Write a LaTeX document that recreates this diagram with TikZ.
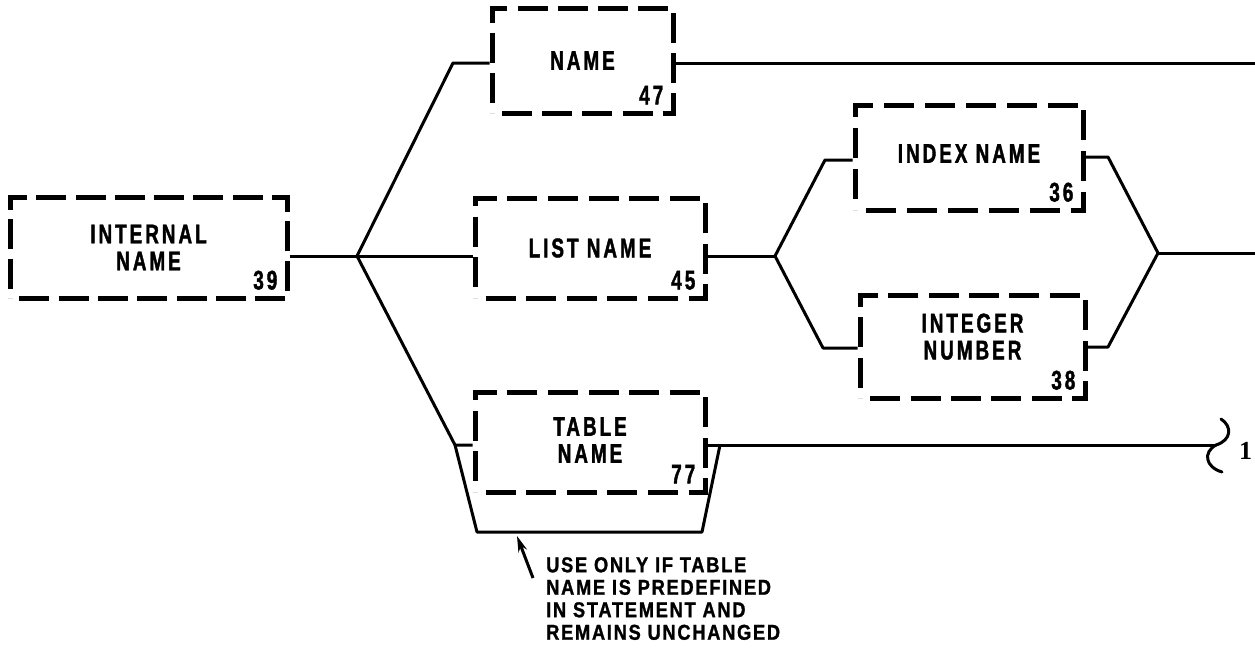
\documentclass[tikz,border=0pt]{standalone}
\usepackage{fontspec}
\usetikzlibrary{arrows.meta,decorations}
\newfontfamily\lblfont[FakeStretch=0.7,LetterSpace=11,FakeBold=1.5]{Liberation Sans}
\newfontfamily\notefont[FakeStretch=0.85,LetterSpace=8,FakeBold=1.2]{Liberation Sans}
\newfontfamily\markfont{Liberation Serif}
\begin{document}
\begin{tikzpicture}[x=1pt,y=-1pt,
  box/.style={draw, line width=5pt, dash pattern=on 30pt off 9pt, dash expand off,
    rectangle, inner sep=0pt, align=center,
    font=\lblfont\bfseries\fontsize{27}{27}\selectfont},
  num/.style={anchor=base east, inner sep=0pt, xshift=-12pt, yshift=11pt,
    font=\lblfont\bfseries\fontsize{27}{27}\selectfont},
  conn/.style={line width=3pt, line join=round}]
\useasboundingbox (0,0) rectangle (1255,664);

% boxes
\node[box, minimum width=277pt, minimum height=101pt] (internal) at (148.5,247.5) {INTERNAL\\NAME};
\node[box, minimum width=181pt, minimum height=105pt] (name) at (582.5,60.5) {NAME};
\node[box, minimum width=230pt, minimum height=100pt] (list) at (590,248) {LIST NAME};
\node[box, minimum width=228pt, minimum height=105pt, text depth=8pt] (index) at (969,157.5) {INDEX NAME};
\node[box, minimum width=225pt, minimum height=103pt, text depth=20pt] (integer) at (972.5,346.5) {INTEGER\\NUMBER};
\node[box, minimum width=230pt, minimum height=100pt, text depth=4pt] (table) at (590,442) {TABLE\\NAME};

% numbers
\node[num] (n39) at (internal.south east) {39};
\node[num] (n47) at (name.south east) {47};
\node[num] (n45) at (list.south east) {45};
\node[num] (n36) at (index.south east) {36};
\node[num] (n38) at (integer.south east) {38};
\node[num] (n77) at (table.south east) {77};

% junctions and bends
\coordinate (j1) at (357,256);
\coordinate (b1) at (453,63);
\coordinate (nameEnd) at (1255,63);
\coordinate (b6) at (455,445);
\coordinate (j2) at (775,256);
\coordinate (b2) at (825,160);
\coordinate (b4) at (823,348);
\coordinate (b3) at (1108,157);
\coordinate (b5) at (1108,347);
\coordinate (j3) at (1158,253);
\coordinate (end3) at (1255,253);
\coordinate (brace) at (1216,445);
\coordinate (t1) at (477,532);
\coordinate (t2) at (702,532);
\coordinate (b7) at (720,445);
\coordinate (arrTail) at (533,578);
\coordinate (arrTip) at (517,536);

% connectors
\draw[conn] (internal.east |- j1) -- (j1);
\draw[conn] (j1) -- (b1) -- (name.west |- b1);
\draw[conn] (name.east |- b1) -- (nameEnd);
\draw[conn] (j1) -- (list.west |- j1);
\draw[conn] (j1) -- (b6) -- (table.west |- b6);
\draw[conn] (list.east |- j2) -- (j2);
\draw[conn] (j2) -- (b2) -- (index.west |- b2);
\draw[conn] (j2) -- (b4) -- (integer.west |- b4);
\draw[conn] (index.east |- b3) -- (b3) -- (j3);
\draw[conn] (integer.east |- b5) -- (b5) -- (j3);
\draw[conn] (j3) -- (end3);
\draw[conn] (table.east |- b6) -- (brace);
\draw[conn] (b6) -- (t1) -- (t2) -- (b7);

% continuation mark
\draw[line width=3pt, line cap=round] (brace) .. controls (1232,440) and (1232,426) .. (1221,419);
\draw[line width=3pt, line cap=round] (brace) .. controls (1203,452) and (1205,467) .. (1222,472);
\node[anchor=base west, inner sep=0pt, font=\markfont\bfseries\fontsize{26}{28}\selectfont] (one) at (1239,459) {1};

% annotation
\draw[line width=3pt, -{Stealth[length=16pt,width=9pt]}] (arrTail) -- (arrTip);
\node[anchor=north west, inner sep=0pt, align=left,
  font=\notefont\bfseries\fontsize{21.5}{22.5}\selectfont] (note) at (546,557)
  {USE ONLY IF TABLE\\NAME IS PREDEFINED\\IN STATEMENT AND\\REMAINS UNCHANGED};
\end{tikzpicture}
\end{document}
